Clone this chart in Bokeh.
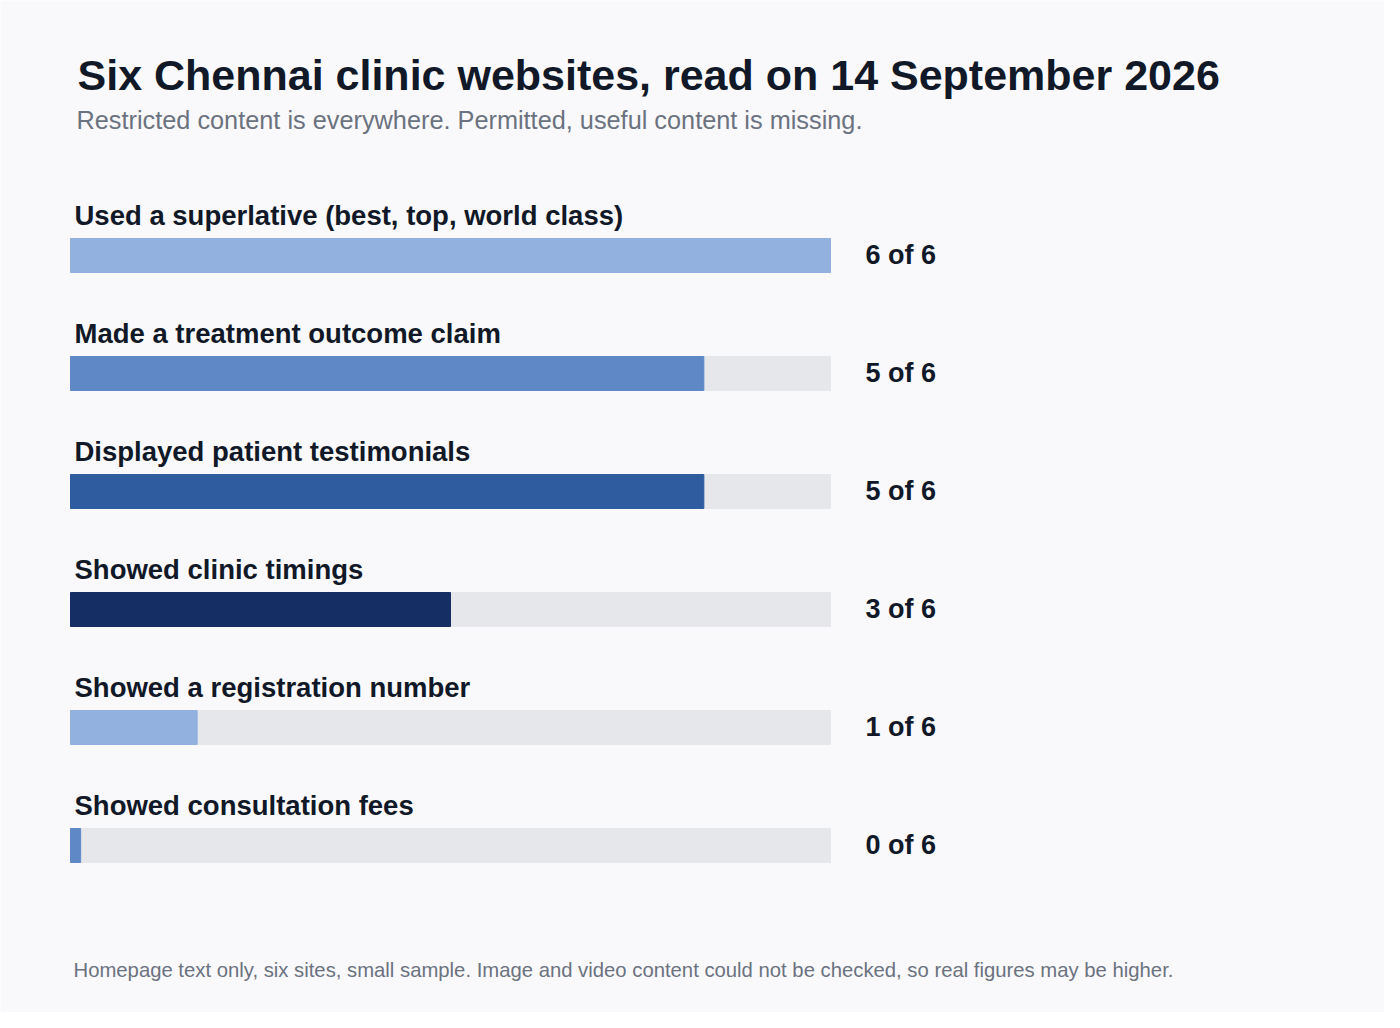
from bokeh.core.properties import value
from bokeh.embed import file_html
from bokeh.models import ColumnDataSource, Label, Range1d
from bokeh.plotting import figure
from bokeh.resources import INLINE

# Data -------------------------------------------------------------
categories = [
    "Used a superlative (best, top, world class)",
    "Made a treatment outcome claim",
    "Displayed patient testimonials",
    "Showed clinic timings",
    "Showed a registration number",
    "Showed consultation fees",
]
counts = [6, 5, 5, 3, 1, 0]
total_sites = 6
bar_colours = ["#93b1de", "#5e88c6", "#2f5b9f", "#152e63", "#93b1de", "#5e88c6"]

TITLE = "Six Chennai clinic websites, read on 14 September 2026"
SUBTITLE = "Restricted content is everywhere. Permitted, useful content is missing."
FOOTER = ("Homepage text only, six sites, small sample. Image and video content "
          "could not be checked, so real figures may be higher.")

BG = "#f9f9fb"
INK = "#111827"
GREY = "#6b7280"
TRACK = "#e5e7eb"
FONT = "Liberation Sans"

W, H = 1384, 1012
PX_X = 760 / total_sites      # pixels per site
PX_Y = 118                    # pixels per row
X0, Y0 = 70, 255              # where value 0 / first row sit in the frame

rows = list(range(len(categories)))
shown = [max(c, 0.08) for c in counts]   # keep a sliver for zero
source = ColumnDataSource(data=dict(
    y=rows,
    count=shown,
    total=[total_sites] * len(rows),
    colour=bar_colours,
    label=categories,
    label_y=[r - 40 / PX_Y for r in rows],
    value_text=[f"{c} of {total_sites}" for c in counts],
    value_x=[total_sites + 35 / PX_X] * len(rows),
    value_y=[r - 1 / PX_Y for r in rows],
))

p = figure(width=W, height=H, output_backend="svg", toolbar_location=None,
           tools="", min_border=0,
           x_range=Range1d(-X0 / PX_X, (W - X0) / PX_X),
           y_range=Range1d((H - Y0) / PX_Y, -Y0 / PX_Y))
p.axis.visible = False
p.grid.visible = False
p.outline_line_color = None
p.background_fill_color = BG
p.border_fill_color = BG

# track + bars
p.hbar(y="y", left=0, right="total", height=34 / PX_Y, color=TRACK, source=source)
p.hbar(y="y", left=0, right="count", height=34 / PX_Y, color="colour", source=source)

# row labels and values
p.text(x=4 / PX_X, y="label_y", text="label", source=source, text_font=value(FONT),
       text_font_style="bold", text_font_size="27.5px", text_color=INK,
       text_baseline="middle", text_align="left")
p.text(x="value_x", y="value_y", text="value_text", source=source, text_font=value(FONT),
       text_font_style="bold", text_font_size="27px", text_color=INK,
       text_baseline="middle", text_align="left")

# headings and footnote
p.add_layout(Label(x=77, y=H - 74, x_units="screen", y_units="screen", text=TITLE,
                   text_font=FONT, text_font_style="bold", text_font_size="43px",
                   text_color=INK, text_baseline="middle"))
p.add_layout(Label(x=76, y=H - 119, x_units="screen", y_units="screen", text=SUBTITLE,
                   text_font=FONT, text_font_size="25.3px", text_color=GREY,
                   text_baseline="middle"))
p.add_layout(Label(x=73, y=H - 969, x_units="screen", y_units="screen", text=FOOTER,
                   text_font=FONT, text_font_size="20.3px", text_color=GREY,
                   text_baseline="middle"))

open("out.html", "w").write(file_html(p, INLINE))
